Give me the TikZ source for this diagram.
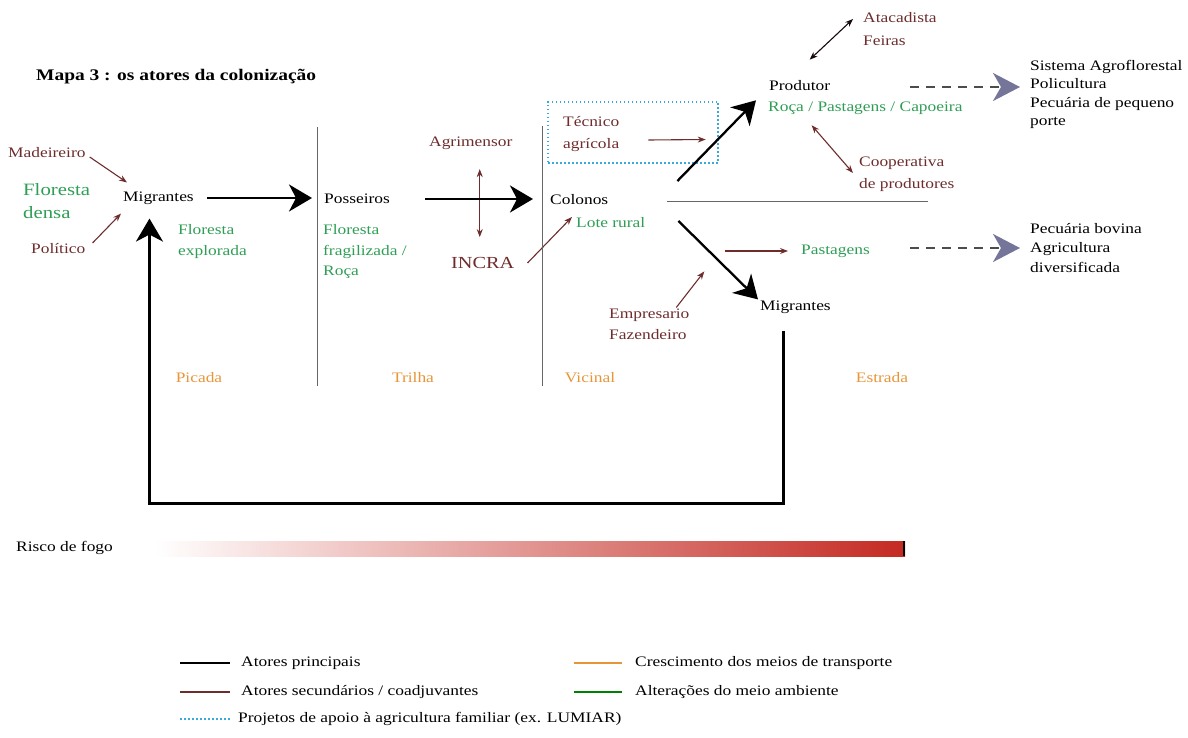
\documentclass[tikz,border=0pt]{standalone}
\usepackage{fontspec}
\setmainfont{Liberation Serif}[FakeStretch=1.2]
\usetikzlibrary{arrows.meta,positioning,calc}

\definecolor{secund}{HTML}{6E2C2C}
\definecolor{meioamb}{HTML}{2E9E55}
\definecolor{transp}{HTML}{E8953A}
\definecolor{lumiar}{HTML}{38A9DC}
\definecolor{destino}{HTML}{75759A}
\definecolor{fogo}{HTML}{C42A22}

\tikzset{
  rotulo/.style={font=\fontsize{14.5}{20.5}\selectfont, inner sep=1pt, anchor=west, align=left},
  principal/.style={rotulo},
  ator/.style={rotulo, text=secund},
  ambiente/.style={rotulo, text=meioamb},
  trecho/.style={rotulo, anchor=center, text=transp},
  grande/.style={line width=2.3pt, -{Stealth[length=23pt, width=27pt, inset=7pt]}},
  fina/.style={secund, line width=1.1pt, -{Stealth[length=8pt, width=6pt]}},
  dupla/.style={secund, line width=1.1pt, {Stealth[length=8pt, width=6pt]}-{Stealth[length=8pt, width=6pt]}},
  resultado/.style={gray!60!black, line width=2pt, dash pattern=on 9pt off 7pt,
    -{Stealth[length=27pt, width=28pt, inset=8pt, color=destino]}},
  divisa/.style={gray!80!black, line width=1pt},
  legenda/.style={line width=2.6pt},
}

\begin{document}
\begin{tikzpicture}[x=1pt, y=-1pt]
  \useasboundingbox (0,0) rectangle (1188,738);

  % Titulo
  \node[rotulo, font=\fontsize{16.2}{18}\selectfont\bfseries] (titulo) at (35,77) {Mapa 3 : os atores da colonização};

  % Picada
  \node[ator] (madeireiro) at (7,153) {Madeireiro};
  \node[ambiente, font=\fontsize{17.3}{23}\selectfont] (densa) at (22,201) {Floresta\\densa};
  \node[ator] (politico) at (30,249) {Político};
  \node[principal] (migrA) at (122,198) {Migrantes};
  \node[ambiente, font=\fontsize{14.5}{21}\selectfont] (explorada) at (177,242) {Floresta\\explorada};
  \draw[fina] ($(madeireiro.east)+(3,4)$) -- ($(migrA.north west)+(5,-8)$);
  \draw[fina] ($(politico.east)+(6,-6)$) -- ($(migrA.south west)+(-1,8)$);

  % Trilha
  \node[principal] (posseiros) at (323,199) {Posseiros};
  \node[ambiente] (fragilizada) at (322,252) {Floresta\\fragilizada /\\Roça};
  \node[ator] (agrimensor) at (428,143) {Agrimensor};
  \node[ator, font=\fontsize{16.9}{20}\selectfont] (incra) at (450,263) {INCRA};
  \draw[grande, shorten <=12pt, shorten >=11pt] (migrA.east) -- (migrA.east -| posseiros.west);
  \draw[dupla] ($(incra.north)+(-3,-87)$) -- ($(incra.north)+(-3,-19)$);

  % Vicinal
  \node[principal] (colonos) at (549,200) {Colonos};
  \node[ambiente] (lote) at (575,223) {Lote rural};
  \node[draw=lumiar, line width=1.4pt, dash pattern=on 1.5pt off 2.5pt, minimum width=170pt, minimum height=61pt] (apoio) at (633,132.5) {};
  \node[ator, font=\fontsize{14.5}{22}\selectfont] (tecnico) at (562,134) {Técnico\\agrícola};
  \draw[grande, shorten <=34pt, shorten >=16pt] (posseiros.east) -- (posseiros.east -| colonos.west);
  \draw[fina] ($(incra.east)+(12,0)$) -- ($(lote.west)+(-3,-6)$);
  \draw[fina] ($(tecnico.east)+(28,6)$) -- ($(apoio.east)+(-13,7)$);

  % Estrada
  \node[principal] (produtor) at (768,86) {Produtor};
  \node[ambiente] (roca) at (767,108) {Roça / Pastagens / Capoeira};
  \node[ator, font=\fontsize{14.5}{23}\selectfont] (atacadista) at (862,29) {Atacadista\\Feiras};
  \node[ator, font=\fontsize{14.5}{22}\selectfont] (cooperativa) at (858,174) {Cooperativa\\de produtores};
  \node[ambiente] (pastagens) at (800,251) {Pastagens};
  \node[ator, font=\fontsize{14.5}{21}\selectfont] (empresario) at (608,324) {Empresario\\Fazendeiro};
  \node[principal] (migrB) at (759,307) {Migrantes};
  \draw[grande] ($(colonos.east)+(68,-19)$) -- ($(produtor.south west)+(-12,8)$);
  \draw[grande] ($(colonos.east)+(69,21)$) -- ($(migrB.north west)+(-1,0)$);
  \draw[dupla, black!80!secund] ($(produtor.north)+(10,-20)$) -- ($(atacadista.west)+(-9,-10)$);
  \draw[dupla] ($(produtor.south)+(12,33)$) -- ($(cooperativa.west)+(-5,-1)$);
  \draw[fina] ($(pastagens.west)+(-75,0)$) -- ($(pastagens.west)+(-12,0)$);
  \draw[fina] ($(empresario.north)+(27,0)$) -- ($(empresario.north)+(55,-36)$);
  \draw[divisa] ($(colonos.east)+(58,2)$) -- ($(colonos.east)+(319,2)$);

  % Resultados
  \node[rotulo, font=\fontsize{14.5}{18.5}\selectfont] (sistema) at (1029,94.5) {Sistema Agroflorestal\\Policultura\\Pecuária de pequeno\\porte};
  \node[rotulo, font=\fontsize{14.5}{19.5}\selectfont] (pecuaria) at (1029,248) {Pecuária bovina\\Agricultura\\diversificada};
  \draw[resultado] ($(produtor.east)+(79,1)$) -- ($(sistema.west)+(-9,-7.5)$);
  \draw[resultado] ($(pastagens.east)+(39,-3)$) -- ($(pecuaria.west)+(-9,0)$);

  % Vias
  \draw[divisa] (317,127) -- (317,386);
  \draw[divisa] (542,126) -- (542,386);
  \node[trecho] (picada) at (199,378) {Picada};
  \node[trecho] (trilha) at (413,378) {Trilha};
  \node[trecho] (vicinal) at (590,378) {Vicinal};
  \node[trecho] (estrada) at (882,378) {Estrada};

  % Retorno
  \draw[grande, line width=2.6pt] ($(migrB.south)+(-12,16)$) -- ++(0,173) -| ($(migrA.south)+(-9,13)$);

  % Risco de fogo
  \node[rotulo] (risco) at (15,548) {Risco de fogo};
  \shade[left color=white, right color=fogo] (155,541) rectangle (905,556);
  \draw[line width=2pt] (904,541) -- (904,556);

  % Legenda
  \node[rotulo] (leg1) at (240,663) {Atores principais};
  \node[rotulo] (leg2) at (240,692) {Atores secundários / coadjuvantes};
  \node[rotulo] (leg3) at (237,719) {Projetos de apoio à agricultura familiar (ex. LUMIAR)};
  \node[rotulo] (leg4) at (634,663) {Crescimento dos meios de transporte};
  \node[rotulo] (leg5) at (634,692) {Alterações do meio ambiente};
  \draw[legenda] ($(leg1.west)+(-60,0)$) -- ($(leg1.west)+(-10,0)$);
  \draw[legenda, secund] ($(leg2.west)+(-60,0)$) -- ($(leg2.west)+(-10,0)$);
  \draw[lumiar, line width=1.2pt, dash pattern=on 2pt off 2pt] ($(leg3.west)+(-57,0)$) -- ($(leg3.west)+(-7,0)$);
  \draw[legenda, transp] ($(leg4.west)+(-60,0)$) -- ($(leg4.west)+(-12,0)$);
  \draw[legenda, green!50!black] ($(leg5.west)+(-60,0)$) -- ($(leg5.west)+(-12,0)$);
\end{tikzpicture}
\end{document}
